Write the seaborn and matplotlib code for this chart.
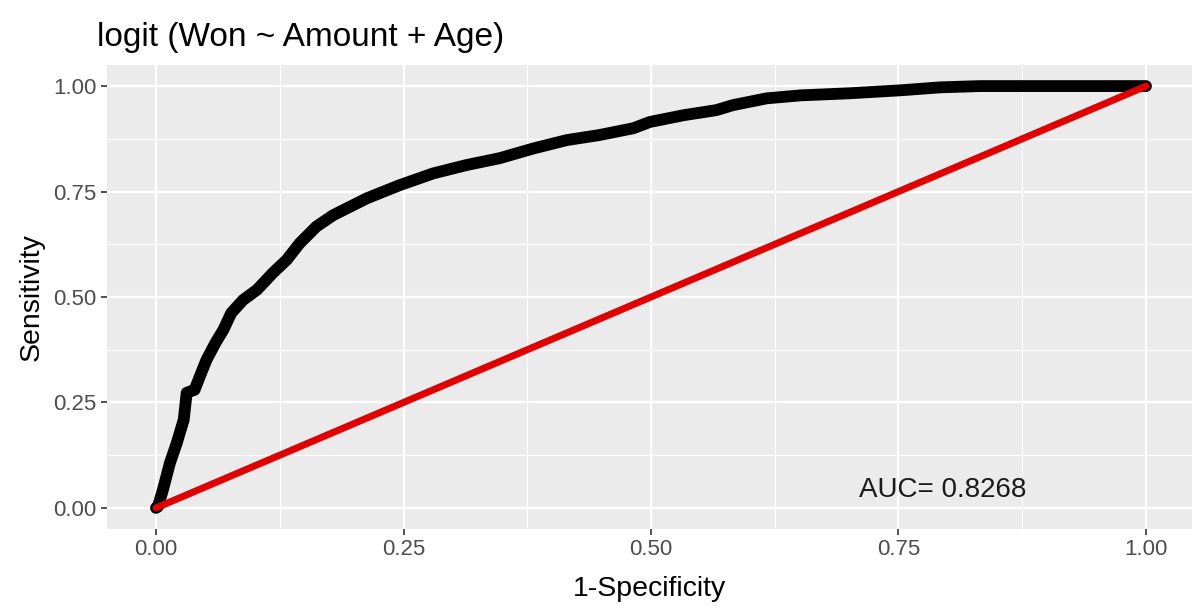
import numpy as np
import pandas as pd
import matplotlib
matplotlib.use("Agg")
import matplotlib.pyplot as plt
import seaborn as sns

# ROC points
fpr = [0.0, 0.002, 0.007, 0.014, 0.021, 0.028, 0.031, 0.039, 0.044, 0.051,
       0.060, 0.068, 0.076, 0.088, 0.102, 0.118, 0.132, 0.145, 0.162, 0.179,
       0.196, 0.213, 0.230, 0.246, 0.280, 0.314, 0.347, 0.381, 0.415, 0.448,
       0.482, 0.499, 0.533, 0.566, 0.583, 0.617, 0.651, 0.701, 0.752, 0.792,
       0.832, 0.900, 1.0]
tpr = [0.0, 0.003, 0.043, 0.106, 0.154, 0.209, 0.273, 0.280, 0.310, 0.351,
       0.391, 0.422, 0.462, 0.493, 0.517, 0.557, 0.588, 0.627, 0.667, 0.694,
       0.714, 0.734, 0.750, 0.765, 0.793, 0.813, 0.829, 0.852, 0.872, 0.884,
       0.900, 0.915, 0.931, 0.943, 0.955, 0.971, 0.978, 0.983, 0.990, 0.997,
       1.0, 1.0, 1.0]
diag = [0.0, 1.0]
auc_label = "AUC= 0.8268"
title = "logit (Won ~ Amount + Age)"
ticks = [0.0, 0.25, 0.5, 0.75, 1.0]
tick_labels = ["0.00", "0.25", "0.50", "0.75", "1.00"]

roc = pd.DataFrame({"fpr": fpr, "tpr": tpr})
ref = pd.DataFrame({"x": diag, "y": diag})

sns.set_style("darkgrid", {"axes.facecolor": "#EBEBEB", "grid.color": "white"})
plt.rcParams["font.family"] = ["Liberation Sans", "DejaVu Sans"]

fig = plt.figure(figsize=(11.92, 6.12), dpi=100)
ax = fig.add_axes([106.5 / 1192, 83 / 612, (1192 - 106.5) / 1192, 464 / 612])

sns.lineplot(data=roc, x="fpr", y="tpr", sort=False, estimator=None,
             color="black", linewidth=8.5, ax=ax,
             solid_capstyle="round", solid_joinstyle="round")
sns.lineplot(data=ref, x="x", y="y", sort=False, estimator=None,
             color="#E00000", linewidth=5, ax=ax, solid_capstyle="round")

ax.text(0.795, 0.043, auc_label, ha="center", va="center", fontsize=20,
        color="#1a1a1a")

ax.set_xlim(-0.05, (1192 - 156) / 990)
ax.set_ylim(-0.05, 1.05)
ax.set_xticks(ticks)
ax.set_xticklabels(tick_labels)
ax.set_yticks(ticks)
ax.set_yticklabels(tick_labels)
ax.set_xticks([0.125, 0.375, 0.625, 0.875], minor=True)
ax.set_yticks([0.125, 0.375, 0.625, 0.875], minor=True)
ax.grid(which="major", color="white", linewidth=1.6)
ax.grid(which="minor", color="white", linewidth=0.8)
ax.tick_params(which="major", length=4, width=1.2, color="#333333",
               labelsize=16, labelcolor="#4D4D4D", pad=3, bottom=True, left=True)
ax.tick_params(which="minor", length=0)
for s in ax.spines.values():
    s.set_visible(False)

ax.set_xlabel("1-Specificity", fontsize=20.5, labelpad=12, color="black")
ax.set_ylabel("Sensitivity", fontsize=20.5, labelpad=6, color="black")
ax.set_title(title, fontsize=24, loc="left", pad=14, color="black",
             x=(97 - 106.5) / (1192 - 106.5))

fig.savefig("out.png", dpi=100)
